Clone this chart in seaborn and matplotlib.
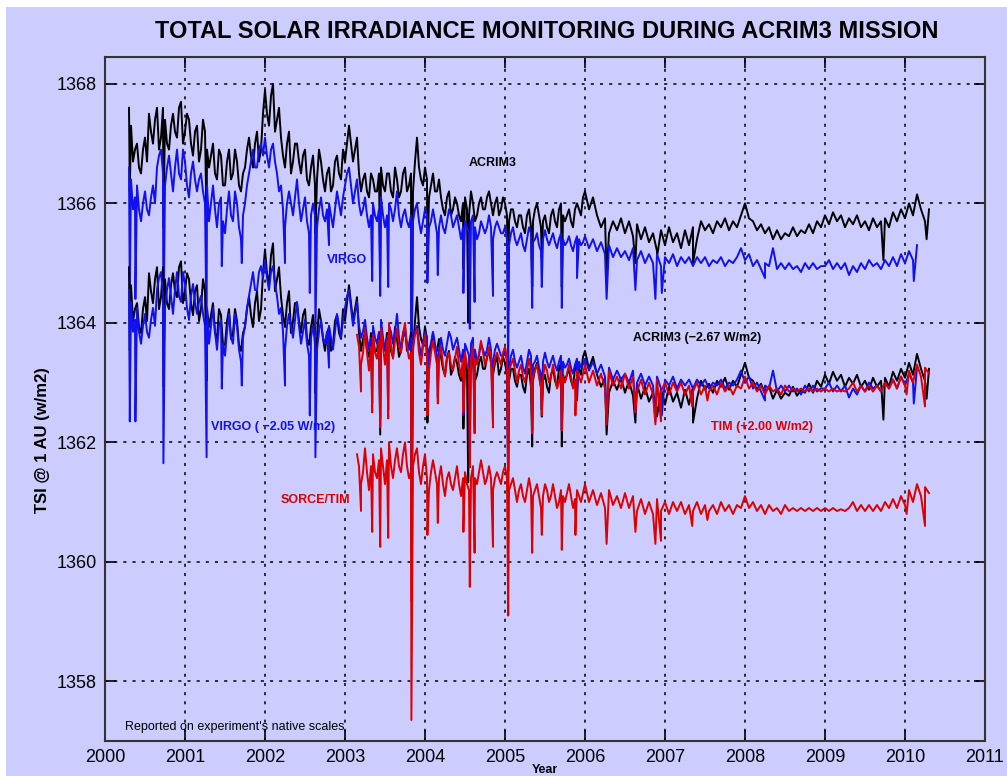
import numpy as np
import pandas as pd
import matplotlib
matplotlib.use("Agg")
import matplotlib.pyplot as plt
import matplotlib.patches as patches
import seaborn as sns

# The busy 2000-2006 part also has readings half way between (the *_mid lists).
step = 0.05

acrim_start = 2000.30
acrim_tsi = [
    1367.6, 1366.7, 1367.0, 1366.5, 1367.1,
    1367.5, 1367.0, 1367.6, 1367.1, 1367.4, 1366.9, 1367.5, 1367.1, 1367.7, 1367.2,
    1367.4, 1366.8, 1367.3, 1366.9, 1367.2,
    1366.6, 1367.0, 1366.4, 1366.8, 1366.3, 1366.9, 1366.5, 1366.7, 1366.2, 1366.6,
    1367.1, 1366.6, 1367.2, 1366.9,
    1367.9, 1367.3, 1368.0, 1367.4,
    1367.1, 1366.6, 1367.2, 1366.7, 1367.0, 1366.5, 1366.9,
    1366.3, 1366.8, 1366.4, 1366.7, 1366.2, 1366.6, 1366.3, 1366.8, 1366.4, 1366.7,
    1367.3, 1366.7, 1367.1,
    1366.2, 1366.5, 1366.1, 1366.4, 1366.2,
    1366.6, 1366.2, 1366.5, 1366.1, 1366.4, 1366.2, 1366.6, 1366.3,
    1366.2, 1367.1, 1366.4, 1366.6, 1366.1, 1366.5, 1366.2,
    1366.1, 1365.8, 1366.2, 1365.9, 1366.0, 1365.7, 1366.1, 1365.8, 1366.0, 1365.8, 1366.1, 1365.9,
    1366.2, 1365.8, 1366.1, 1365.9, 1366.0, 1365.7,
    1365.9, 1365.6, 1365.8, 1365.5, 1365.9, 1365.7, 1366.0, 1365.6, 1365.8, 1365.5,
    1365.9, 1365.6, 1366.0, 1365.7, 1365.9, 1365.6, 1366.0, 1365.8,
    1366.2, 1365.9, 1366.1,
    1365.8, 1365.6, 1365.75, 1365.5, 1365.7, 1365.55, 1365.75, 1365.5, 1365.7, 1365.45,
    1365.65, 1365.4, 1365.6, 1365.35,
    1365.5, 1365.2, 1365.55, 1365.3, 1365.6, 1365.35, 1365.5, 1365.25, 1365.55, 1365.3, 1365.6, 1365.4,
    1365.7, 1365.55, 1365.65, 1365.5, 1365.7, 1365.6, 1365.75, 1365.55, 1365.7, 1365.6, 1365.8,
    1366.0, 1365.75,
    1365.7, 1365.55, 1365.65, 1365.5, 1365.6, 1365.4, 1365.55, 1365.4, 1365.5, 1365.45,
    1365.6, 1365.45, 1365.55, 1365.5, 1365.65, 1365.5, 1365.7, 1365.6,
    1365.8, 1365.65, 1365.85, 1365.7, 1365.8, 1365.6, 1365.75, 1365.65, 1365.8, 1365.6,
    1365.7, 1365.55, 1365.75, 1365.6, 1365.7,
    1365.75, 1365.6, 1365.85, 1365.7, 1365.9, 1365.75, 1366.0, 1365.8, 1366.15, 1365.9, 1365.7, 1365.9,
]
acrim_mid = [
    1367.3, 1366.9, 1366.6, 1366.9, 1366.7,
    1367.2, 1367.4, 1366.9, 1367.6, 1367.0, 1367.3, 1367.2, 1367.6, 1367.0, 1367.5,
    1367.0, 1367.2, 1366.7, 1367.4, 1366.9,
    1366.8, 1366.5, 1366.9, 1366.3, 1366.7, 1366.4, 1366.9, 1366.3, 1366.5, 1366.9,
    1366.8, 1367.0, 1366.7, 1367.5,
    1367.5, 1367.8, 1367.2, 1367.6,
    1366.8, 1367.0, 1366.5, 1367.0, 1366.7, 1366.8, 1366.4,
    1366.6, 1366.3, 1366.9, 1366.4, 1366.5, 1366.2, 1366.7, 1366.5, 1366.9, 1367.0,
    1367.0, 1366.9, 1366.5,
    1366.4, 1366.2, 1366.5, 1366.2, 1366.5,
    1366.3, 1366.5, 1366.2, 1366.6, 1366.1, 1366.5, 1366.2, 1366.5,
    1366.7, 1366.6, 1366.3, 1366.4, 1366.3, 1366.2, 1366.4,
    1365.9, 1366.1, 1365.8, 1366.1, 1365.8, 1366.0, 1365.9, 1366.2, 1365.7, 1366.0, 1365.9, 1366.1,
    1366.0, 1366.0, 1365.8, 1366.1, 1365.8, 1365.9,
    1365.7, 1365.8, 1365.6, 1365.8, 1365.6, 1365.9, 1365.8, 1365.7, 1365.6, 1365.8,
    1365.7, 1365.9, 1365.8, 1365.8, 1365.7, 1365.9, 1365.9, 1366.1,
]
acrim_dips = [
    (2000.31, 1366.2), (2000.73, 1365.6), (2001.27, 1365.7), (2002.63, 1365.5),
    (2003.44, 1364.8), (2003.83, 1362.8), (2004.03, 1365.0), (2004.48, 1364.9),
    (2004.54, 1364.0), (2005.04, 1364.2), (2005.34, 1364.6), (2005.46, 1365.1),
    (2005.71, 1364.6), (2006.27, 1364.8), (2006.63, 1365.0), (2006.90, 1365.1),
    (2007.35, 1365.0), (2009.73, 1365.05), (2010.27, 1365.4),
]

virgo_start = 2000.30
virgo_tsi = [
    1366.6, 1365.9, 1366.3, 1365.7, 1366.2,
    1365.8, 1366.3, 1366.6, 1366.9, 1366.3, 1366.8, 1366.2, 1366.9, 1366.4, 1366.7,
    1366.1, 1366.7, 1366.2, 1366.5, 1366.0,
    1365.7, 1366.3, 1365.6, 1366.1, 1365.5, 1366.2, 1365.7, 1366.0, 1365.4, 1366.0,
    1366.5, 1366.9, 1366.6, 1367.0,
    1367.1, 1366.6, 1367.0, 1366.5,
    1366.3, 1365.6, 1366.2, 1365.8, 1366.4, 1365.7, 1366.1,
    1365.5, 1366.0, 1365.6, 1366.1, 1365.7, 1366.0, 1365.6, 1366.2, 1365.8, 1366.3,
    1366.6, 1366.0, 1366.4,
    1365.8, 1366.1, 1365.6, 1366.0, 1365.7,
    1366.1, 1365.6, 1366.0, 1365.7, 1366.2, 1365.6, 1365.9, 1365.6,
    1365.7, 1366.0, 1365.5, 1365.9, 1365.6, 1365.9, 1365.5,
    1365.8, 1365.5, 1365.9, 1365.6, 1365.8, 1365.4, 1365.7, 1365.5, 1365.8, 1365.4, 1365.7, 1365.5,
    1365.8, 1365.4, 1365.7, 1365.5, 1365.6, 1365.3,
    1365.6, 1365.3, 1365.5, 1365.2, 1365.6, 1365.35, 1365.5, 1365.2, 1365.55, 1365.3,
    1365.5, 1365.25, 1365.5, 1365.3, 1365.45, 1365.2, 1365.45, 1365.3,
    1365.45, 1365.25, 1365.4,
    1365.2, 1365.35, 1365.15, 1365.3, 1365.1, 1365.25, 1365.1, 1365.2, 1365.05, 1365.25,
    1365.05, 1365.2, 1365.0, 1365.15,
    1365.0, 1365.15, 1364.95, 1365.1, 1365.0, 1365.15, 1364.95, 1365.1, 1365.0, 1365.1, 1364.95, 1365.1,
    1365.0, 1365.1, 1364.95, 1365.05, 1365.0, 1365.1, 1364.95, 1365.05, 1365.0, 1365.1, 1365.25,
    1365.05, 1365.15,
    1364.95, 1365.05, 1364.9, 1365.0, 1364.95, 1365.25, 1364.9, 1365.0, 1364.9, 1365.0,
    1364.9, 1364.95, 1364.85, 1365.0, 1364.9, 1365.0, 1364.9, 1364.95,
    1364.95, 1365.05, 1364.9, 1365.0, 1364.9, 1365.0, 1364.8, 1364.95, 1364.85, 1365.0,
    1364.9, 1365.05, 1364.95, 1365.0, 1364.9,
    1365.05, 1364.95, 1365.1, 1364.95, 1365.15, 1365.0, 1365.2, 1365.05, 1365.3,
]
virgo_mid = [
    1366.4, 1366.1, 1365.9, 1366.0, 1365.9,
    1366.1, 1366.0, 1366.8, 1366.5, 1366.6, 1366.5, 1366.6, 1366.5, 1366.9, 1366.3,
    1366.5, 1366.4, 1366.4, 1366.2, 1366.3,
    1366.0, 1365.9, 1366.0, 1365.7, 1365.9, 1365.8, 1366.2, 1365.6, 1365.8, 1366.3,
    1366.7, 1366.6, 1366.9, 1366.8,
    1366.8, 1366.9, 1366.7, 1366.2,
    1365.9, 1366.0, 1366.0, 1366.1, 1366.0, 1365.9, 1365.7,
    1365.8, 1365.8, 1365.9, 1365.8, 1365.9, 1365.8, 1365.9, 1366.0, 1366.1, 1366.5,
    1366.3, 1366.2, 1366.0,
    1365.9, 1365.8, 1365.8, 1365.8, 1365.9,
    1365.8, 1365.8, 1365.9, 1365.9, 1365.8, 1365.8, 1365.7, 1365.8,
    1365.9, 1365.7, 1365.7, 1365.8, 1365.7, 1365.7, 1365.6,
    1365.6, 1365.7, 1365.8, 1365.7, 1365.6, 1365.6, 1365.6, 1365.7, 1365.6, 1365.5, 1365.6, 1365.6,
    1365.6, 1365.6, 1365.6, 1365.5, 1365.4, 1365.5,
    1365.4, 1365.4, 1365.3, 1365.4, 1365.5, 1365.4, 1365.3, 1365.4, 1365.4, 1365.4,
    1365.35, 1365.4, 1365.4, 1365.35, 1365.3, 1365.35, 1365.4, 1365.35,
]
virgo_dips = [
    (2000.31, 1364.4), (2000.38, 1364.4), (2000.73, 1363.7), (2001.27, 1363.8),
    (2001.46, 1364.95), (2001.71, 1365.0), (2002.25, 1365.0), (2002.56, 1364.5),
    (2002.63, 1363.8), (2002.80, 1365.3), (2003.34, 1364.7), (2003.44, 1364.45),
    (2003.54, 1364.6), (2003.83, 1362.5), (2004.03, 1364.67), (2004.16, 1364.8),
    (2004.48, 1364.5), (2004.56, 1363.9), (2004.62, 1364.35), (2004.85, 1364.45),
    (2005.04, 1363.1), (2005.34, 1364.25), (2005.46, 1364.6), (2005.71, 1364.25),
    (2005.90, 1364.75), (2006.27, 1364.4), (2006.63, 1364.55), (2006.88, 1364.4),
    (2006.96, 1364.5), (2008.25, 1364.75), (2010.11, 1364.7),
]

tim_start = 2003.15
tim_tsi = [
    1361.8, 1361.3, 1361.9, 1361.2, 1361.8, 1361.4,
    1361.9, 1361.3, 1362.0, 1361.4, 1361.9, 1361.5, 1362.0, 1361.4,
    1361.6, 1361.9, 1361.3, 1361.8, 1361.2, 1361.7, 1361.3,
    1361.6, 1361.1, 1361.5, 1361.2, 1361.6, 1361.1, 1361.5,
    1361.2, 1361.6, 1361.3, 1361.7, 1361.3, 1361.6, 1361.2, 1361.5, 1361.3, 1361.6,
    1361.2, 1361.4, 1361.0, 1361.3, 1361.0, 1361.4, 1361.1, 1361.3, 1360.9, 1361.3,
    1361.0, 1361.3, 1360.9, 1361.2, 1361.0, 1361.3, 1360.9, 1361.2, 1361.0, 1361.3,
    1361.0, 1361.2, 1360.95, 1361.15, 1360.9, 1361.2, 1360.95, 1361.1, 1360.9, 1361.15,
    1360.9, 1361.1, 1360.85, 1361.05, 1360.8, 1361.0, 1360.8, 1361.05, 1360.85, 1361.0,
    1360.8, 1361.0, 1360.85, 1361.0, 1360.8, 1360.95, 1360.85, 1361.0, 1360.8, 1360.95,
    1360.85, 1360.95, 1360.8, 1361.0, 1360.85, 1360.95, 1360.8, 1360.95, 1360.9, 1361.1,
    1360.9, 1361.0, 1360.85, 1360.95, 1360.8, 1360.95, 1360.85, 1360.9, 1360.8, 1360.95,
    1360.85, 1360.9, 1360.85, 1360.9, 1360.85, 1360.9, 1360.85, 1360.9, 1360.85, 1360.9,
    1360.85, 1360.9, 1360.85, 1360.88, 1360.85, 1360.9, 1361.0, 1360.85, 1360.95, 1360.85,
    1360.95, 1360.85, 1360.95, 1360.85, 1361.0, 1360.9, 1361.05, 1360.9, 1361.1, 1360.95,
    1361.2, 1361.0, 1361.3, 1361.1, 1361.25, 1361.15,
]
tim_mid = [
    1361.6, 1361.5, 1361.5, 1361.6, 1361.5, 1361.7,
    1361.6, 1361.7, 1361.6, 1361.7, 1361.6, 1361.8, 1361.6, 1361.5,
    1361.8, 1361.5, 1361.6, 1361.4, 1361.5, 1361.5, 1361.4,
    1361.3, 1361.4, 1361.3, 1361.4, 1361.3, 1361.4, 1361.3,
    1361.4, 1361.4, 1361.5, 1361.5, 1361.4, 1361.4, 1361.4, 1361.4, 1361.5, 1361.4,
    1361.3, 1361.2, 1361.2, 1361.1, 1361.2, 1361.2, 1361.2, 1361.1, 1361.1, 1361.2,
    1361.1, 1361.1, 1361.0, 1361.1, 1361.15, 1361.1, 1361.05, 1361.1, 1361.15,
]
tim_dips = [
    (2003.20, 1360.85), (2003.34, 1360.5), (2003.44, 1360.25), (2003.54, 1360.4),
    (2003.83, 1357.35), (2004.03, 1360.45), (2004.16, 1360.65), (2004.48, 1360.5),
    (2004.56, 1359.58), (2004.62, 1360.15), (2004.85, 1360.25), (2005.04, 1359.1),
    (2005.34, 1360.15), (2005.46, 1360.45), (2005.71, 1360.2), (2005.88, 1360.45),
    (2006.27, 1360.3), (2006.63, 1360.5), (2006.88, 1360.3), (2006.95, 1360.35),
    (2007.34, 1360.6), (2007.53, 1360.7), (2010.02, 1360.8), (2010.25, 1360.6),
]

# offsets used to bring the records together (from the chart labels)
acrim_shift = -2.67
virgo_shift = -2.05
tim_shift = 2.00


def make_series(start, vals, mid, dips):
    t = start + step * np.arange(len(vals))
    tm = start + step / 2 + step * np.arange(len(mid))
    dt = [d[0] for d in dips]
    dv = [d[1] for d in dips]
    df = pd.DataFrame({"year": np.r_[t, tm, dt], "tsi": np.r_[vals, mid, dv]})
    return df.sort_values("year").reset_index(drop=True)


acrim = make_series(acrim_start, acrim_tsi, acrim_mid, acrim_dips)
virgo = make_series(virgo_start, virgo_tsi, virgo_mid, virgo_dips)
tim = make_series(tim_start, tim_tsi, tim_mid, tim_dips)

bg = "#ccccff"
c_acrim = "#000000"
c_virgo = "#1010f0"
c_tim = "#dd0000"

plt.rcParams["font.family"] = ["Liberation Sans", "DejaVu Sans"]

fig = plt.figure(figsize=(10.07, 7.76), dpi=100, facecolor=bg)
# white margin strips at the top and left of the scan
fig.patches.append(patches.Rectangle((0, 1 - 7 / 776), 1, 7 / 776, transform=fig.transFigure,
                                     facecolor="white", edgecolor="none", zorder=-1))
fig.patches.append(patches.Rectangle((0, 0), 6 / 1007, 1, transform=fig.transFigure,
                                     facecolor="white", edgecolor="none", zorder=-1))
ax = fig.add_axes([105 / 1007, 1 - 741 / 776, 880 / 1007, 684 / 776])
ax.set_facecolor(bg)

lw = 1.4
# native scales (upper group) and shifted records (lower group)
sns.lineplot(data=acrim, x="year", y="tsi", color=c_acrim, lw=lw, estimator=None, sort=False, ax=ax)
sns.lineplot(data=virgo, x="year", y="tsi", color=c_virgo, lw=lw, estimator=None, sort=False, ax=ax)
sns.lineplot(data=acrim.assign(tsi=acrim["tsi"] + acrim_shift), x="year", y="tsi",
             color=c_acrim, lw=lw, estimator=None, sort=False, ax=ax)
sns.lineplot(data=virgo.assign(tsi=virgo["tsi"] + virgo_shift), x="year", y="tsi",
             color=c_virgo, lw=lw, estimator=None, sort=False, ax=ax)
sns.lineplot(data=tim.assign(tsi=tim["tsi"] + tim_shift), x="year", y="tsi",
             color=c_tim, lw=lw, estimator=None, sort=False, ax=ax)
sns.lineplot(data=tim, x="year", y="tsi", color=c_tim, lw=lw, estimator=None, sort=False, ax=ax)

ax.set_xlim(2000, 2011)
ax.set_ylim(1357.0, 1368.45)
ax.set_xticks(range(2000, 2012))
ax.set_yticks(range(1358, 1369, 2))
ax.grid(True, color="black", linestyle=(0, (2, 4)), linewidth=1.1)
ax.tick_params(direction="in", length=8, width=1.2, top=True, right=True,
               labelsize=13, pad=6)
for s in ax.spines.values():
    s.set_linewidth(1.5)
    s.set_color("#333333")

ax.set_ylabel("TSI @ 1 AU (w/m2)", fontsize=12, fontweight="bold")
ax.yaxis.set_label_coords(-0.062, 0.44)
ax.set_xlabel("Year", fontsize=9, fontweight="bold")
ax.xaxis.label.set_va("baseline")
ax.xaxis.set_label_coords(0.5, -0.0475)

fig.text(0.543, 0.960, "TOTAL SOLAR IRRADIANCE MONITORING DURING ACRIM3 MISSION",
         ha="center", va="center", fontsize=17, fontweight="bold")

lab = dict(ha="center", va="center", fontsize=9, fontweight="bold")
ax.text(2004.84, 1366.68, "ACRIM3", color=c_acrim, **lab)
ax.text(2003.03, 1365.05, "VIRGO", color=c_virgo, **lab)
ax.text(2007.40, 1363.75, "ACRIM3 (\u22122.67 W/m2)", color=c_acrim, **lab)
ax.text(2002.10, 1362.26, "VIRGO ( \u22122.05 W/m2)", color=c_virgo, **lab)
ax.text(2008.21, 1362.26, "TIM (+2.00 W/m2)", color=c_tim, **lab)
ax.text(2002.63, 1361.04, "SORCE/TIM", color=c_tim, **lab)
ax.text(2000.25, 1357.24, "Reported on experiment's native scales", ha="left",
        va="center", fontsize=9, color="black")

fig.savefig("out.png", dpi=100, facecolor=fig.get_facecolor())
